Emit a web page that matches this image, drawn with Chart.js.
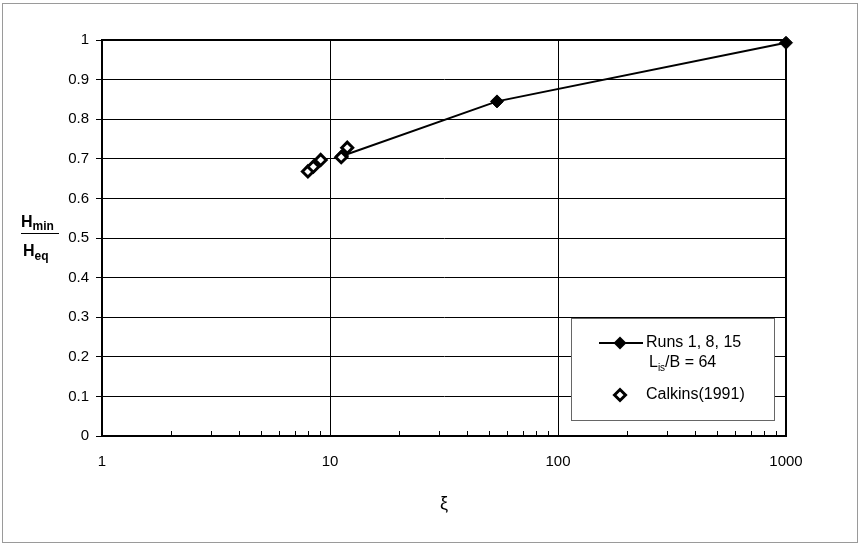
<!DOCTYPE html>
<html><head><meta charset="utf-8">
<script src="https://cdn.jsdelivr.net/npm/chart.js@4.4.0/dist/chart.umd.min.js"></script>
<style>html,body{margin:0;padding:0;background:#fff;} #wrap{width:860px;height:545px;position:relative;}</style>
</head><body><div id="wrap"><canvas id="c" width="860" height="545"></canvas></div>
<script>
// ---- data ----
const xTickValues = [1, 10, 100, 1000];
const xMinorTicks = [2,3,4,5,6,7,8,9,20,30,40,50,60,70,80,90,200,300,400,500,600,700,800,900];
const yTickValues = [0, 0.1, 0.2, 0.3, 0.4, 0.5, 0.6, 0.7, 0.8, 0.9, 1];
const runsXi = [11.3, 54, 1000];
const runsRatio = [0.707, 0.845, 0.993];
const calkinsXi = [8.0, 8.45, 9.1, 11.2, 11.9];
const calkinsRatio = [0.668, 0.680, 0.697, 0.704, 0.728];
const runsLabel = 'Runs 1, 8, 15';
const runsLabel2 = ['L', 'is', '/B = 64'];
const calkinsLabel = 'Calkins(1991)';
const xTitle = 'ξ';
const yTitleTop = ['H', 'min'];
const yTitleBottom = ['H', 'eq'];

const FONT = '"Liberation Sans", Arial, Helvetica, sans-serif';

function diamond(ctx, x, y, r, fill, stroke, lw) {
  ctx.beginPath();
  ctx.moveTo(x - r, y); ctx.lineTo(x, y - r); ctx.lineTo(x + r, y); ctx.lineTo(x, y + r); ctx.closePath();
  ctx.fillStyle = fill; ctx.fill();
  if (stroke) { ctx.strokeStyle = stroke; ctx.lineWidth = lw; ctx.stroke(); }
}

const decor = {
  id: 'decor',
  beforeDatasetsDraw(chart) {
    const {ctx, chartArea: a, scales: {x}} = chart;
    ctx.save();
    ctx.strokeStyle = '#000';
    ctx.lineWidth = 1;
    ctx.beginPath();
    xMinorTicks.forEach(v => {
      const p = Math.round(x.getPixelForValue(v)) + 0.5;
      ctx.moveTo(p, a.bottom); ctx.lineTo(p, a.bottom - 5);
    });
    ctx.stroke();
    ctx.lineWidth = 2;
    ctx.strokeRect(a.left, a.top, a.right - a.left, a.bottom - a.top);
    ctx.restore();
  },
  afterDraw(chart) {
    const {ctx, chartArea: a} = chart;
    ctx.save();
    // outer frame
    ctx.strokeStyle = '#9a9a9a'; ctx.lineWidth = 1;
    ctx.strokeRect(2.5, 3.5, 855, 539);
    // legend
    const lx = a.right - 215, ly = a.top + 278, lw = 203, lh = 102;
    ctx.fillStyle = '#fff'; ctx.fillRect(lx, ly, lw, lh);
    ctx.strokeStyle = '#666'; ctx.lineWidth = 1;
    ctx.strokeRect(lx + 0.5, ly + 0.5, lw, lh);
    ctx.strokeStyle = '#000'; ctx.lineWidth = 2;
    ctx.beginPath(); ctx.moveTo(lx + 28, ly + 25); ctx.lineTo(lx + 72, ly + 25); ctx.stroke();
    diamond(ctx, lx + 49, ly + 25, 6.5, '#000');
    diamond(ctx, lx + 49, ly + 77, 5.5, '#fff', '#000', 3);
    ctx.fillStyle = '#000'; ctx.textBaseline = 'middle'; ctx.textAlign = 'left';
    ctx.font = '16px ' + FONT;
    ctx.fillText(runsLabel, lx + 75, ly + 25);
    ctx.fillText(calkinsLabel, lx + 75, ly + 77);
    let tx = lx + 78;
    ctx.fillText(runsLabel2[0], tx, ly + 45); tx += ctx.measureText(runsLabel2[0]).width;
    ctx.font = '10px ' + FONT;
    ctx.fillText(runsLabel2[1], tx, ly + 50); tx += ctx.measureText(runsLabel2[1]).width;
    ctx.font = '16px ' + FONT;
    ctx.fillText(runsLabel2[2], tx, ly + 45);
    // x title
    ctx.textAlign = 'center';
    ctx.font = '18px ' + FONT;
    ctx.fillText(xTitle, (a.left + a.right) / 2, 504);
    // y title (fraction)
    ctx.textAlign = 'left'; ctx.textBaseline = 'alphabetic';
    const fx = 21;
    ctx.font = 'bold 16px ' + FONT;
    ctx.fillText(yTitleTop[0], fx, 227);
    let w = ctx.measureText(yTitleTop[0]).width;
    ctx.font = 'bold 12px ' + FONT;
    ctx.fillText(yTitleTop[1], fx + w, 230);
    ctx.font = 'bold 16px ' + FONT;
    ctx.fillText(yTitleBottom[0], fx + 2, 256);
    w = ctx.measureText(yTitleBottom[0]).width;
    ctx.font = 'bold 12px ' + FONT;
    ctx.fillText(yTitleBottom[1], fx + 2 + w, 260);
    ctx.strokeStyle = '#000'; ctx.lineWidth = 1;
    ctx.beginPath(); ctx.moveTo(fx, 233.5); ctx.lineTo(fx + 38, 233.5); ctx.stroke();
    ctx.restore();
  }
};

new Chart(document.getElementById('c'), {
  type: 'scatter',
  data: {
    datasets: [
      {
        label: runsLabel,
        data: runsXi.map((v, i) => ({x: v, y: runsRatio[i]})),
        showLine: true, borderColor: '#000', borderWidth: 2,
        pointStyle: 'rectRot', pointRadius: 6.5, pointBackgroundColor: '#000',
        pointBorderColor: '#000', pointBorderWidth: 1, clip: false, order: 2
      },
      {
        label: calkinsLabel,
        data: calkinsXi.map((v, i) => ({x: v, y: calkinsRatio[i]})),
        showLine: false,
        pointStyle: 'rectRot', pointRadius: 5.5, pointBackgroundColor: '#fff',
        pointBorderColor: '#000', pointBorderWidth: 3, clip: false, order: 1
      }
    ]
  },
  options: {
    responsive: false, animation: false, devicePixelRatio: 1,
    layout: {padding: {top: 40, right: 74, bottom: 0, left: 0}},
    plugins: {legend: {display: false}, tooltip: {enabled: false}, title: {display: false}},
    scales: {
      x: {
        type: 'logarithmic', min: 1, max: 1000, position: 'bottom',
        afterBuildTicks: s => { s.ticks = xTickValues.map(v => ({value: v, major: true})); },
        afterFit: s => { s.height = 109; },
        ticks: {color: '#000', font: {family: FONT, size: 15}, padding: 17, maxRotation: 0, autoSkip: false,
          callback: v => String(v)},
        grid: {color: '#000', lineWidth: 1, drawTicks: false},
        border: {display: true, color: '#000', width: 2}
      },
      y: {
        type: 'linear', min: 0, max: 1, position: 'left',
        afterBuildTicks: s => { s.ticks = yTickValues.map(v => ({value: v})); },
        afterFit: s => { s.width = 102; },
        ticks: {color: '#000', font: {family: FONT, size: 15}, padding: 7, autoSkip: false,
          callback: v => String(Math.round(v * 10) / 10)},
        grid: {color: '#000', lineWidth: 1, drawTicks: true, tickLength: 6},
        border: {display: true, color: '#000', width: 2}
      }
    }
  },
  plugins: [decor]
});
</script>
</body></html>
